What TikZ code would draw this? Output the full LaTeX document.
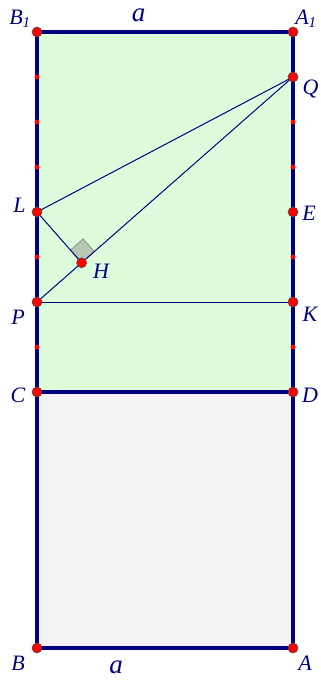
\documentclass[tikz,border=0pt]{standalone}
\usepackage{fontspec}
\setmainfont{Liberation Serif}
\usetikzlibrary{calc}
\begin{document}
\begin{tikzpicture}[x=1pt,y=-1pt,
  edge/.style={draw=navyc,line width=4.2pt,line cap=round,line join=round},
  thin/.style={draw=navyc,line width=1pt},
  bigpt/.style={circle,fill=red,draw=black!70,line width=0.6pt,inner sep=0pt,minimum size=10pt},
  smallpt/.style={circle,fill=red,inner sep=0pt,minimum size=5pt},
  lab/.style={text=navyc,font=\fontsize{22}{24}\selectfont\itshape,inner sep=0pt},
  alab/.style={text=navyc,font=\fontsize{27}{29}\selectfont\itshape,inner sep=0pt}]
\definecolor{navyc}{RGB}{0,0,128}
\definecolor{lgreen}{RGB}{220,252,220}
\definecolor{lgray}{RGB}{243,243,243}
\definecolor{sqfill}{RGB}{182,200,178}
\useasboundingbox (0,0) rectangle (321,680);
% coordinates
\coordinate (B1) at (37,32);
\coordinate (A1) at (293,32);
\coordinate (C) at (37,392);
\coordinate (D) at (293,392);
\coordinate (B) at (37,648);
\coordinate (A) at (293,648);
\coordinate (Q) at (293,77);
\coordinate (L) at (37,212);
\coordinate (E) at (293,212);
\coordinate (P) at (37,302);
\coordinate (K) at (293,302);
\coordinate (H) at (81.6,262.8);
% fills
\fill[lgreen] (B1) rectangle (D);
\fill[lgray] (C) rectangle (A);
% right angle mark
\filldraw[fill=sqfill,draw=black!50,line width=0.6pt]
  (H) -- ($(H)+(-0.66*17,-0.75*17)$) -- ($(H)+(-0.66*17+0.751*17,-0.75*17-0.66*17)$) -- ($(H)+(0.751*17,-0.66*17)$) -- cycle;
% thin lines
\draw[thin] (L) -- (Q);
\draw[thin] (P) -- (Q);
\draw[thin] (L) -- (H);
\draw[thin] (P) -- (K);
% thick edges
\draw[edge] (B1) -- (A1) -- (D) -- (C) -- cycle;
\draw[edge] (C) -- (B) -- (A) -- (D);
% small points
\foreach \yy in {77,122,167,257,347} \node[smallpt] at (37,\yy) {};
\foreach \yy in {122,167,257,347} \node[smallpt] at (293,\yy) {};
% big points
\foreach \p in {B1,A1,Q,L,E,H,P,K,C,D,B,A} \node[bigpt] (n\p) at (\p) {};
% labels
\node[lab] at (20,19) {B\textsubscript{\fontsize{15}{15}\selectfont 1}};
\node[lab] at (306,19) {A\textsubscript{\fontsize{15}{15}\selectfont 1}};
\node[alab] at (138.5,15) {a};
\node[lab] at (310.5,89) {Q};
\node[lab] at (19.5,205) {L};
\node[lab] at (309,213) {E};
\node[lab] at (101,271) {H};
\node[lab] at (18,317) {P};
\node[lab] at (310,314) {K};
\node[lab] at (18,395) {C};
\node[lab] at (310,395) {D};
\node[lab] at (18,663) {B};
\node[alab] at (116,667) {a};
\node[lab] at (305,663) {A};
\end{tikzpicture}
\end{document}
